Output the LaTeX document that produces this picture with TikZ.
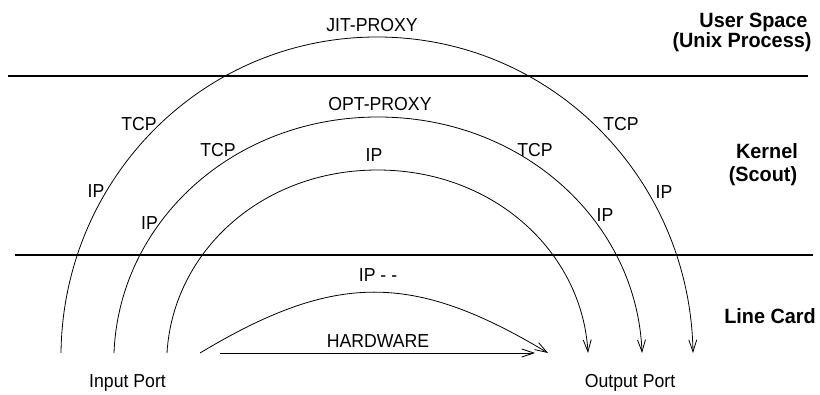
\documentclass[tikz,border=0pt]{standalone}
\usepackage{fontspec}
\setmainfont{Liberation Sans}
\newfontfamily\lblfont[FakeStretch=0.94]{Liberation Sans}
\newfontfamily\layerfont[FakeStretch=0.96]{Liberation Sans}
\usetikzlibrary{arrows.meta}
\begin{document}
\begin{tikzpicture}[x=0.75pt,y=-0.75pt,
  lbl/.style={inner sep=0pt, anchor=base, font=\lblfont\fontsize{14.1pt}{16pt}\selectfont},
  layer/.style={inner sep=0pt, anchor=base, font=\layerfont\fontsize{15.5pt}{18pt}\selectfont\bfseries},
  flow/.style={line width=0.6pt, -{Straight Barb[length=9pt,width=6pt]}},
  sep/.style={line width=1pt}]
\useasboundingbox (0,0) rectangle (820,395);
% separators
\coordinate (s1a) at (8,76);  \coordinate (s1b) at (808,76);
\coordinate (s2a) at (15,255); \coordinate (s2b) at (813,255);
\draw[sep] (s1a) -- (s1b);
\draw[sep] (s2a) -- (s2b);
% ports
\coordinate (jitin) at (61,353);  \coordinate (jitout) at (693,353);
\coordinate (optin) at (114,353); \coordinate (optout) at (642,353);
\coordinate (ipin) at (167,353);  \coordinate (ipout) at (588,353);
\coordinate (ipmin) at (200,353); \coordinate (ipmout) at (548,353);
\coordinate (hwin) at (220,353);  \coordinate (hwout) at (535,353);
% paths
\draw[flow] (jitin) .. controls (63,178.5) and (202.5,37) .. (377,37)
  .. controls (551.5,37) and (690,178.5) .. (jitout);
\draw[flow] (optin) .. controls (119,222.7) and (232.2,117) .. (378,117)
  .. controls (523.8,117) and (637,222.7) .. (optout);
\draw[flow] (ipin) .. controls (173,251.9) and (261.2,170) .. (377.5,170)
  .. controls (493.8,170) and (582,251.9) .. (ipout);
\draw[flow] (ipmin) .. controls (335,272) and (413,272) .. (ipmout);
\draw[flow] (hwin) -- (hwout);
% path labels
\node[lbl] (jitl) at (372,32) {JIT-PROXY};
\node[lbl] (optl) at (380,111) {OPT-PROXY};
\node[lbl] (ipl) at (374,162) {IP};
\node[lbl] (ipml) at (378,281) {IP - -};
\node[lbl] (hwl) at (378,347) {HARDWARE};
\node[lbl] (inp) at (127.5,387) {Input Port};
\node[lbl] (outp) at (630,387) {Output Port};
\node[lbl] (tcp1) at (139,131) {TCP};
\node[lbl] (ip1) at (96,198) {IP};
\node[lbl] (tcp2) at (218,157) {TCP};
\node[lbl] (ip2) at (149.5,229) {IP};
\node[lbl] (tcp3) at (621,131) {TCP};
\node[lbl] (ip3) at (664,199) {IP};
\node[lbl] (tcp4) at (535,157) {TCP};
\node[lbl] (ip4) at (605,222) {IP};
% layer labels
\node[layer] (us) at (753.5,28) {User Space};
\node[layer] (up) at (742,48) {(Unix Process)};
\node[layer] (kn) at (767,159) {Kernel};
\node[layer] (sc) at (763,182) {(Scout)};
\node[layer] (lc) at (770,323) {Line Card};
\end{tikzpicture}
\end{document}
